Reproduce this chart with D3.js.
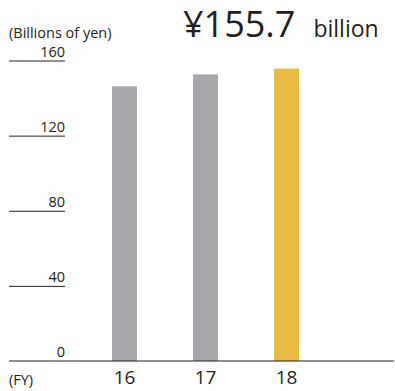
<!DOCTYPE html>
<html>
<head>
<meta charset="utf-8">
<script src="https://cdn.jsdelivr.net/npm/d3@7"></script>
<style>
  html, body { margin: 0; padding: 0; background: #fff; }
  svg { display: block; font-family: "Open Sans", "Noto Sans", sans-serif; }
</style>
</head>
<body>
<svg id="chart" width="395" height="391"></svg>
<script>
// Net sales by fiscal year, billions of yen
const years = ["16", "17", "18"];
const values = [146.3, 152.6, 155.7];
const barColors = ["#a7a8ab", "#a7a8ab", "#e8bb45"];
const yTicks = [0, 40, 80, 120, 160];
const headline = "¥155.7";
const headlineUnit = "billion";
const unitLabel = "(Billions of yen)";
const axisLabel = "(FY)";

const svg = d3.select("#chart");
const ink = "#231f20";

const y = d3.scaleLinear().domain([0, 160]).range([361, 60.5]);
const x = d3.scalePoint().domain(years).range([124.5, 286.5]);
const barW = 25;

// Bars
svg.append("g").selectAll("rect")
  .data(years)
  .join("rect")
  .attr("x", d => x(d) - barW / 2)
  .attr("width", barW)
  .attr("y", (d, i) => y(values[i]))
  .attr("height", (d, i) => y(0) - y(values[i]))
  .attr("fill", (d, i) => barColors[i]);

// Left tick rules with labels sitting above them
const yAxis = d3.axisLeft(y).tickValues(yTicks.filter(t => t > 0)).tickSize(56).tickPadding(0).tickFormat("");
const yg = svg.append("g").attr("transform", "translate(65,0)").call(yAxis);
yg.select(".domain").remove();
yg.selectAll(".tick line").attr("stroke", ink).attr("stroke-width", 1);

svg.append("g").selectAll("text")
  .data(yTicks)
  .join("text")
  .attr("x", 65)
  .attr("y", d => y(d) - 4)
  .attr("text-anchor", "end")
  .attr("font-size", 14.5)
  .attr("fill", ink)
  .text(d => d);

// Baseline
const xAxis = d3.axisBottom(x).tickSize(0).tickPadding(0).tickFormat("");
const xg = svg.append("g").attr("transform", `translate(0,${y(0)})`).call(xAxis);
xg.select(".domain").remove();
svg.append("line")
  .attr("x1", 9).attr("x2", 394)
  .attr("y1", y(0)).attr("y2", y(0))
  .attr("stroke", ink).attr("stroke-width", 1.2);

// Year labels
svg.append("g").selectAll("text")
  .data(years)
  .join("text")
  .attr("x", d => x(d))
  .attr("y", 384)
  .attr("text-anchor", "middle")
  .attr("font-size", 19)
  .attr("font-weight", 500)
  .attr("fill", ink)
  .text(d => d);

svg.append("text")
  .attr("x", 9).attr("y", 385)
  .attr("font-size", 14.5)
  .attr("fill", ink)
  .text(axisLabel);

svg.append("text")
  .attr("x", 9).attr("y", 38)
  .attr("font-size", 14.5)
  .attr("fill", ink)
  .text(unitLabel);

// Headline figure
const head = svg.append("text").attr("y", 37).attr("fill", ink);
head.append("tspan").attr("x", 183).attr("font-size", 36).text(headline);
head.append("tspan").attr("dx", 18).attr("font-size", 23).text(headlineUnit);
</script>
</body>
</html>
